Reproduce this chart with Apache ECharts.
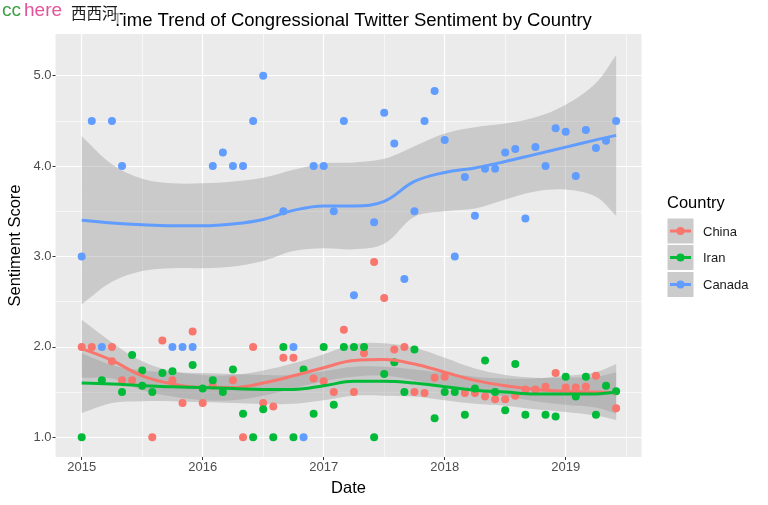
<!DOCTYPE html>
<html><head><meta charset="utf-8">
<script src="https://cdn.jsdelivr.net/npm/echarts@6/dist/echarts.min.js"></script>
<style>html,body{margin:0;padding:0;background:#fff}#c{width:768px;height:505px}</style>
</head><body><div id="c"></div>
<script>
const titleText = 'Time Trend of Congressional Twitter Sentiment by Country';
const countries = ['China', 'Iran', 'Canada'];
const colors = ['#F8766D', '#00BA38', '#619CFF'];
const xTicks = [2015, 2016, 2017, 2018, 2019];
const yTicks = [1, 2, 3, 4, 5];

const chinaDates = ['2015-01','2015-02','2015-04','2015-04','2015-05','2015-06','2015-08','2015-09','2015-10','2015-11','2015-12',
  '2016-01','2016-02','2016-04','2016-05','2016-06','2016-07','2016-08','2016-09','2016-10','2016-12',
  '2017-01','2017-02','2017-03','2017-04','2017-05','2017-06','2017-07','2017-08','2017-09','2017-10','2017-11','2017-12',
  '2018-01','2018-03','2018-04','2018-05','2018-06','2018-07','2018-08','2018-09','2018-10','2018-11','2018-12',
  '2019-01','2019-02','2019-03','2019-04','2019-06'];
const chinaScores = [2.0,2.0,2.0,1.84,1.63,1.63,1.0,2.07,1.63,1.38,2.17,
  1.38,1.57,1.63,1.0,2.0,1.38,1.34,1.88,1.88,1.65,
  1.62,1.50,2.19,1.50,1.93,2.94,2.54,1.97,2.0,1.50,1.49,1.66,
  1.67,1.49,1.49,1.45,1.42,1.42,1.46,1.53,1.53,1.56,1.71,
  1.55,1.55,1.56,1.68,1.32];

const iranDates = ['2015-01','2015-03','2015-05','2015-06','2015-07','2015-07','2015-08','2015-09','2015-10','2015-12',
  '2016-01','2016-02','2016-03','2016-04','2016-05','2016-06','2016-07','2016-08','2016-09','2016-10','2016-11','2016-12',
  '2017-01','2017-02','2017-03','2017-04','2017-05','2017-06','2017-07','2017-08','2017-09','2017-10','2017-12',
  '2018-01','2018-02','2018-03','2018-04','2018-05','2018-06','2018-07','2018-08','2018-09','2018-11','2018-12',
  '2019-01','2019-02','2019-03','2019-04','2019-05','2019-06'];
const iranScores = [1.0,1.63,1.50,1.91,1.74,1.57,1.50,1.71,1.73,1.80,
  1.54,1.63,1.50,1.75,1.26,1.0,1.31,1.0,2.0,1.0,1.75,1.26,
  2.0,1.36,2.0,2.0,2.0,1.0,1.70,1.83,1.50,1.97,1.21,
  1.50,1.50,1.25,1.54,1.85,1.50,1.30,1.81,1.25,1.25,1.23,
  1.67,1.45,1.67,1.25,1.57,1.51];

const canadaDates = ['2015-01','2015-02','2015-03','2015-04','2015-05','2015-10','2015-11','2015-12',
  '2016-02','2016-03','2016-04','2016-05','2016-06','2016-07','2016-09','2016-10','2016-11','2016-12',
  '2017-01','2017-02','2017-03','2017-04','2017-06','2017-07','2017-08','2017-09','2017-10','2017-11','2017-12',
  '2018-01','2018-02','2018-03','2018-04','2018-05','2018-06','2018-07','2018-08','2018-09','2018-10','2018-11','2018-12',
  '2019-01','2019-02','2019-03','2019-04','2019-05','2019-06'];
const canadaScores = [3.0,4.5,2.0,4.5,4.0,2.0,2.0,2.0,
  4.0,4.15,4.0,4.0,4.5,5.0,3.5,2.0,1.0,4.0,
  4.0,3.5,4.5,2.57,3.38,4.59,4.25,2.75,3.5,4.5,4.83,
  4.29,3.0,3.88,3.45,3.97,3.97,4.15,4.19,3.42,4.21,4.0,4.42,
  4.38,3.89,4.40,4.20,4.28,4.5];

// smoothed trend and confidence band
const fitYears = [2015,2015.25,2015.5,2015.75,2016,2016.25,2016.5,2016.75,2017,2017.25,2017.5,2017.75,2018,2018.25,2018.5,2018.75,2019,2019.25,2019.417];
const chinaFit = [1.98,1.85,1.68,1.59,1.55,1.55,1.60,1.68,1.77,1.85,1.86,1.81,1.72,1.63,1.57,1.53,1.51,1.50,1.49];
const chinaHi  = [2.30,2.05,1.84,1.73,1.69,1.69,1.74,1.82,1.92,2.03,2.04,1.99,1.88,1.76,1.69,1.66,1.66,1.67,1.72];
const chinaLo  = [1.66,1.65,1.52,1.45,1.41,1.41,1.46,1.54,1.62,1.67,1.68,1.63,1.56,1.50,1.45,1.40,1.36,1.33,1.26];
const iranFit  = [1.60,1.59,1.57,1.56,1.55,1.54,1.53,1.53,1.57,1.62,1.62,1.60,1.56,1.52,1.50,1.48,1.48,1.48,1.50];
const iranHi   = [1.93,1.80,1.74,1.72,1.71,1.70,1.69,1.69,1.73,1.78,1.78,1.75,1.71,1.67,1.65,1.65,1.68,1.72,1.81];
const iranLo   = [1.27,1.38,1.40,1.40,1.39,1.38,1.37,1.37,1.41,1.46,1.46,1.45,1.41,1.37,1.35,1.31,1.28,1.24,1.19];
const canadaFit = [3.40,3.37,3.35,3.34,3.34,3.36,3.41,3.51,3.56,3.56,3.61,3.83,3.93,3.98,4.05,4.13,4.21,4.29,4.34];
const canadaHi  = [4.33,4.02,3.86,3.81,3.81,3.83,3.87,3.96,4.03,4.04,4.08,4.22,4.36,4.43,4.47,4.54,4.68,4.92,5.23];
const canadaLo  = [2.47,2.72,2.84,2.87,2.87,2.89,2.95,3.06,3.09,3.08,3.14,3.44,3.50,3.53,3.63,3.72,3.74,3.66,3.45];

const toYear = s => { const p = s.split('-').map(Number); return p[0] + (p[1] - 1) / 12; };
const pts = (d, v) => d.map((s, i) => [toYear(s), v[i]]);

const scatterSets = [pts(chinaDates, chinaScores), pts(iranDates, iranScores), pts(canadaDates, canadaScores)];
const fits = [chinaFit, iranFit, canadaFit];
const his = [chinaHi, iranHi, canadaHi];
const los = [chinaLo, iranLo, canadaLo];

const FONT = '"Liberation Sans", Arial, Helvetica, sans-serif';
const series = [];
countries.forEach((c, i) => {
  series.push({
    name: c, type: 'scatter', xAxisIndex: 0, yAxisIndex: 0, data: scatterSets[i],
    symbolSize: 8, itemStyle: { color: colors[i], opacity: 1 }, silent: true
  });
});
countries.forEach((c, i) => {
  series.push({
    name: c + ' band', type: 'custom', xAxisIndex: 0, yAxisIndex: 0, silent: true,
    data: [[fitYears[0], fits[i][0]]],
    renderItem: (params, api) => {
      const up = fitYears.map((x, j) => api.coord([x, his[i][j]]));
      const dn = fitYears.map((x, j) => api.coord([x, los[i][j]])).reverse();
      const poly = [up[0]].concat(up, [up[up.length - 1]], [dn[0]], dn, [dn[dn.length - 1]]);
      return { type: 'polygon', shape: { points: poly, smooth: 0.35 }, style: { fill: 'rgba(153,153,153,0.4)' } };
    }
  });
  series.push({
    name: c + ' trend', type: 'line', xAxisIndex: 0, yAxisIndex: 0, silent: true,
    data: fitYears.map((x, j) => [x, fits[i][j]]), smooth: 0.4, symbol: 'none',
    lineStyle: { color: colors[i], width: 3 }
  });
});

const legendItems = [];
countries.forEach((c, i) => {
  const top = [218.5, 245, 272][i];
  const cy = top + 12.5;
  legendItems.push({ type: 'rect', z: 100, shape: { x: 667.5, y: top, width: 26, height: 25 }, style: { fill: '#CBCBCB' } });
  legendItems.push({ type: 'line', z: 101, shape: { x1: 670, y1: cy, x2: 691, y2: cy }, style: { stroke: colors[i], lineWidth: 3 } });
  legendItems.push({ type: 'circle', z: 101, shape: { cx: 680.5, cy: cy, r: 4 }, style: { fill: colors[i] } });
  legendItems.push({ type: 'text', z: 101, style: { x: 703, y: cy + 1, text: c, font: '13px ' + FONT, fill: '#1A1A1A', verticalAlign: 'middle' } });
});

const option = {
  animation: false,
  textStyle: { fontFamily: FONT },
  title: { text: titleText, left: 107, top: 6, textStyle: { fontSize: 18.5, fontWeight: 'normal', color: '#000', fontFamily: FONT } },
  legend: { show: false },
  grid: [
    { left: -39.3, right: 81.3, top: -14.7, bottom: -22.7, outerBoundsMode: 'none', containLabel: false },
    { left: 81.7, right: 202.3, top: 75.7, bottom: 67.7, outerBoundsMode: 'none', containLabel: false }
  ],
  xAxis: [
    { gridIndex: 0, type: 'value', min: 2014, max: 2020, interval: 1,
      axisLine: { show: false }, axisTick: { show: false }, axisLabel: { show: false },
      splitLine: { show: true, lineStyle: { color: '#FFFFFF', width: 1.2 } },
      minorTick: { show: false, splitNumber: 2 },
      minorSplitLine: { show: true, lineStyle: { color: '#FFFFFF', width: 0.6 } } },
    { gridIndex: 1, type: 'value', min: xTicks[0], max: xTicks[xTicks.length - 1], interval: 1, position: 'bottom', offset: 19.7,
      axisLine: { show: false }, splitLine: { show: false },
      axisTick: { show: true, length: 3, lineStyle: { color: '#333333', width: 1 } },
      axisLabel: { color: '#4D4D4D', fontSize: 13, margin: 4, fontFamily: FONT, formatter: v => String(v) } }
  ],
  yAxis: [
    { gridIndex: 0, type: 'value', min: 0, max: 6, interval: 1,
      axisLine: { show: false }, axisTick: { show: false }, axisLabel: { show: false },
      splitLine: { show: true, lineStyle: { color: '#FFFFFF', width: 1.2 } },
      minorTick: { show: false, splitNumber: 2 },
      minorSplitLine: { show: true, lineStyle: { color: '#FFFFFF', width: 0.6 } } },
    { gridIndex: 1, type: 'value', min: yTicks[0], max: yTicks[yTicks.length - 1], interval: 1, position: 'left', offset: 26.2,
      axisLine: { show: false }, splitLine: { show: false },
      axisTick: { show: true, length: 3, lineStyle: { color: '#333333', width: 1 } },
      axisLabel: { color: '#4D4D4D', fontSize: 13, margin: 4, fontFamily: FONT, formatter: v => v.toFixed(1) } }
  ],
  graphic: [
    { type: 'rect', z: -100, silent: true, shape: { x: 55.5, y: 34, width: 586, height: 423 }, style: { fill: '#EBEBEB' } },
    { type: 'text', z: 100, style: { x: 348.5, y: 488, text: 'Date', font: '16.5px ' + FONT, fill: '#000', align: 'center', verticalAlign: 'middle' } },
    { type: 'text', z: 100, x: 15, y: 245.5, rotation: Math.PI / 2, style: { x: 0, y: 0, text: 'Sentiment Score', font: '16.5px ' + FONT, fill: '#000', align: 'center', verticalAlign: 'middle' } },
    { type: 'text', z: 100, style: { x: 667, y: 203.5, text: 'Country', font: '16.5px ' + FONT, fill: '#000', verticalAlign: 'middle' } },
    ...legendItems,
    { type: 'rect', z: 110, shape: { x: 68, y: 3, width: 52, height: 21 }, style: { fill: 'rgba(255,255,255,0.65)' } },
    { type: 'text', z: 111, style: { x: 2, y: 11, text: 'cc', font: '19px ' + FONT, fill: '#3DA046', verticalAlign: 'middle' } },
    { type: 'text', z: 111, style: { x: 24, y: 11, text: 'here', font: '19px ' + FONT, fill: '#E0559A', verticalAlign: 'middle' } },
    { type: 'text', z: 111, style: { x: 71, y: 13, text: '西西河', font: '15.5px "Noto Sans CJK SC", sans-serif', fill: '#1A1A1A', verticalAlign: 'middle' } }
  ],
  series: series
};
const chart = echarts.init(document.getElementById('c'), null, { renderer: 'canvas' });
chart.setOption(option);
</script>
</body></html>
